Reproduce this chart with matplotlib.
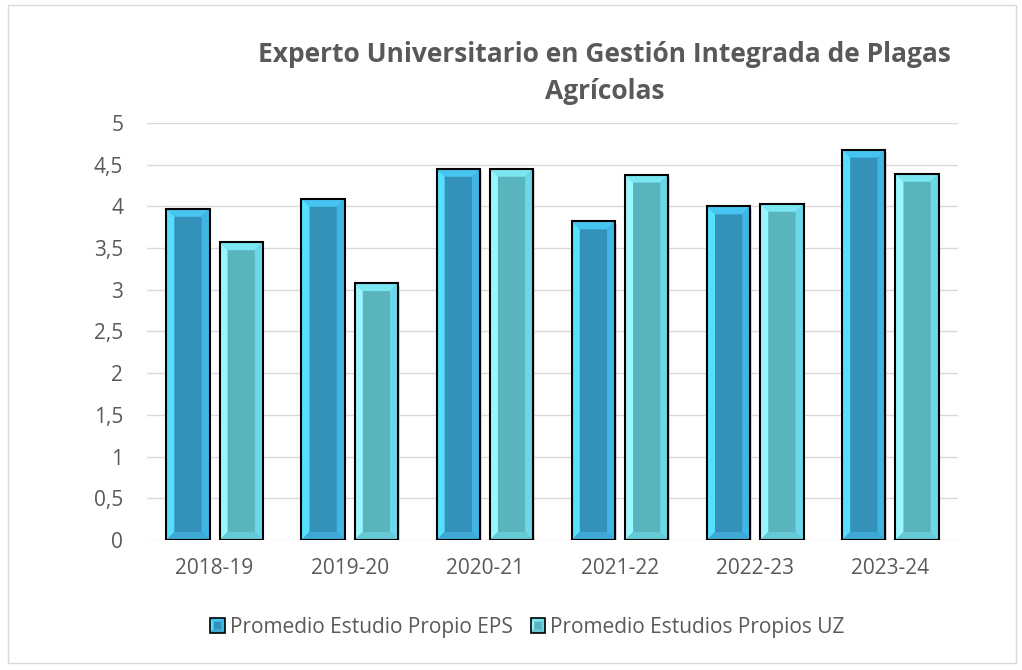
import numpy as np
import matplotlib.pyplot as plt
from matplotlib.patches import Polygon, Rectangle
from matplotlib.legend_handler import HandlerBase
from matplotlib.ticker import FuncFormatter

plt.rcParams['font.family'] = ['Open Sans', 'DejaVu Sans']

years = ["2018-19", "2019-20", "2020-21", "2021-22", "2022-23", "2023-24"]
eps = [3.97, 4.09, 4.45, 3.82, 4.00, 4.68]
uz = [3.57, 3.08, 4.45, 4.38, 4.03, 4.39]
series_names = ["Promedio Estudio Propio EPS", "Promedio Estudios Propios UZ"]

# colours: face, top, left, right, bottom
eps_cols = ["#3391BA", "#46C4F2", "#55E0FF", "#3FB6E6", "#3FA9D6"]
uz_cols = ["#5AB4BE", "#79E6F2", "#99F6FF", "#6CD7E6", "#66CAD6"]

fig = plt.figure(figsize=(10.22, 6.70), dpi=100)
fig.patches.append(Rectangle((0.008, 0.010), 0.986, 0.982, transform=fig.transFigure,
                             fill=False, edgecolor="#D9D9D9", linewidth=1))
ax = fig.add_axes([0.1438, 0.194, 0.9374 - 0.1438, 0.6226])

x = np.arange(len(years))
w = 0.32
off = 0.197
ax.set_xlim(-0.5, len(years) - 0.5)
ax.set_ylim(0, 5)

bev_px = 8
fig.canvas.draw()
p0 = ax.transData.inverted().transform((0, 0))
p1 = ax.transData.inverted().transform((bev_px, bev_px))
bx, by = p1[0] - p0[0], p1[1] - p0[1]


def facets(l, b, r, t, dx, dy):
    il, ir, ib, it = l + dx, r - dx, b + dy, t - dy
    return [
        [(l, t), (r, t), (ir, it), (il, it)],
        [(l, b), (l, t), (il, it), (il, ib)],
        [(r, b), (r, t), (ir, it), (ir, ib)],
        [(l, b), (r, b), (ir, ib), (il, ib)],
    ]


def bevel_bar(xc, h, cols):
    l, r = xc - w / 2, xc + w / 2
    ax.add_patch(Rectangle((l + 0.012, 0), w, h - 0.03, facecolor="#BBBBBB",
                           alpha=0.5, edgecolor="none", zorder=2))
    ax.add_patch(Rectangle((l, 0), w, h, facecolor=cols[0], edgecolor="none", zorder=3))
    for poly, c in zip(facets(l, 0, r, h, bx, by), cols[1:]):
        ax.add_patch(Polygon(poly, closed=True, facecolor=c, edgecolor="none", zorder=3))
    ax.add_patch(Rectangle((l, 0), w, h, facecolor="none", edgecolor="black",
                           linewidth=1.5, zorder=4))


for i in range(len(years)):
    bevel_bar(x[i] - off, eps[i], eps_cols)
    bevel_bar(x[i] + off, uz[i], uz_cols)

ax.set_yticks(np.arange(0, 5.01, 0.5))
ax.yaxis.set_major_formatter(FuncFormatter(lambda v, p: f"{v:g}".replace(".", ",")))
ax.set_xticks(x)
ax.set_xticklabels(years)
ax.grid(axis="y", color="#D9D9D9", linewidth=1)
ax.set_axisbelow(True)
for s in ax.spines.values():
    s.set_visible(False)
ax.tick_params(length=0, labelsize=15, colors="#595959", pad=13)
ax.tick_params(axis="y", pad=17)

# title lines placed by pixel baseline
title_x = 0.5915 * 1022
fig.text(title_x, 670 - 62, "Experto Universitario en Gestión Integrada de Plagas",
         transform=None, ha="center", va="baseline", fontsize=19, fontweight="bold",
         color="#595959")
fig.text(title_x, 670 - 99, "Agrícolas", transform=None, ha="center", va="baseline",
         fontsize=19, fontweight="bold", color="#595959")


class BevelHandler(HandlerBase):
    def __init__(self, cols):
        super().__init__()
        self.cols = cols

    def create_artists(self, legend, orig_handle, xdescent, ydescent, width, height,
                       fontsize, trans):
        s = height
        l, b = -xdescent + (width - s) / 2, -ydescent + (height - s) / 2
        r, t = l + s, b + s
        arts = [Rectangle((l, b), s, s, facecolor=self.cols[0], edgecolor="none",
                          transform=trans)]
        for poly, c in zip(facets(l, b, r, t, s * 0.25, s * 0.25), self.cols[1:]):
            arts.append(Polygon(poly, closed=True, facecolor=c, edgecolor="none",
                                transform=trans))
        arts.append(Rectangle((l, b), s, s, facecolor="none", edgecolor="black",
                              linewidth=1.2, transform=trans))
        return arts


handles = [Rectangle((0, 0), 1, 1), Rectangle((0, 0), 1, 1)]
leg = fig.legend(handles, series_names, loc="center", bbox_to_anchor=(0.516, 0.064),
                 ncol=2, frameon=False, fontsize=15, handlelength=0.72, handleheight=0.72,
                 handletextpad=0.24, columnspacing=0.85,
                 handler_map={handles[0]: BevelHandler(eps_cols),
                              handles[1]: BevelHandler(uz_cols)})
for t in leg.get_texts():
    t.set_color("#595959")

fig.savefig("out.png", dpi=100)
